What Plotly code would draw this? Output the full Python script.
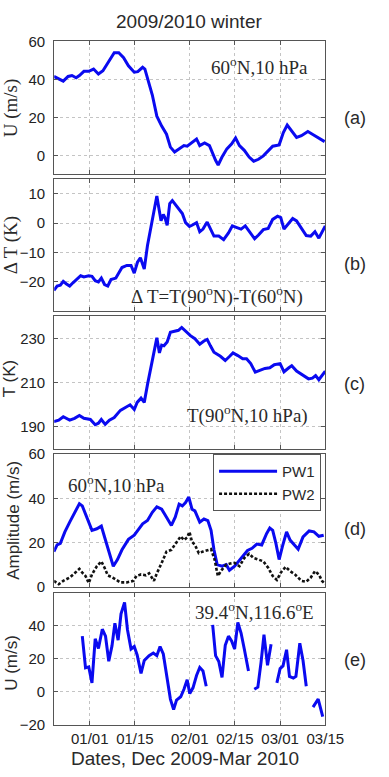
import plotly.graph_objects as go

# ---------------- data (x = days relative to 2010-01-01) ----------------
tick_days = [0, 14, 31, 45, 59, 73]
tick_labels = ["01/01", "01/15", "02/01", "02/15", "03/01", "03/15"]

# (a) U at 60N, 10 hPa
a_day = [-11.1, -9.6, -8.2, -6.7, -5.5, -4.2, -3.2, -1.8, -0.3, 1.2, 2.7, 4.1, 6.1, 7.6, 9.0, 10.5,
         12.0, 13.8, 14.9, 16.4, 17.1, 17.9, 19.4, 20.8, 22.3, 23.8, 25.0, 26.3, 27.7, 29.2, 30.2,
         31.7, 33.1, 34.1, 35.6, 37.1, 38.1, 39.0, 39.8, 41.0, 42.5, 44.0, 45.2, 46.4, 47.9, 49.4,
         50.8, 52.3, 53.8, 55.3, 56.7, 58.7, 60.0, 61.2, 62.6, 64.1, 65.6, 67.6, 69.0, 71.0, 72.8]
a_u = [41.5, 40.3, 39.0, 41.5, 42.0, 40.8, 42.0, 44.2, 44.2, 45.4, 42.8, 44.5, 49.7, 54.0, 54.0, 51.4,
       47.1, 43.7, 44.0, 46.3, 45.4, 40.3, 31.7, 20.6, 15.4, 11.1, 4.3, 1.7, 3.4, 5.1, 4.8,
       6.9, 8.6, 5.1, 6.5, 5.1, 0.9, -2.6, -5.1, -0.9, 3.4, 6.0, 9.1, 5.1, 2.6, -0.9,
       -3.1, -2.1, -0.3, 2.6, 4.8, 5.5, 12.0, 15.9, 12.9, 9.4, 10.3, 12.5, 11.1, 9.1, 7.2]

# (b) Delta T = T(90N) - T(60N)
b_day = [-11.1, -10.1, -9.1, -8.2, -7.2, -6.2, -5.2, -3.7, -2.8, -1.8, -0.3, 0.7, 1.7, 2.7, 3.6, 4.6,
         5.6, 6.6, 8.1, 9.0, 10.0, 11.5, 12.8, 13.8, 14.8, 15.7, 16.9, 17.9, 19.1, 20.1, 20.8, 21.5,
         22.1, 22.8, 23.3, 24.0, 24.8, 25.6, 26.5, 27.5, 28.7, 29.7, 30.9, 31.7, 33.1, 34.1, 35.1,
         36.4, 37.4, 38.5, 40.0, 41.5, 43.0, 44.2, 45.4, 46.9, 48.2, 49.6, 51.1, 52.3, 53.8, 55.3,
         56.7, 58.2, 59.2, 60.2, 61.7, 62.9, 64.1, 65.6, 67.1, 68.5, 69.8, 71.0, 72.0, 73.0]
b_dt = [-22.9, -21.4, -21.1, -19.8, -20.7, -21.4, -20.3, -18.7, -17.9, -18.3, -17.9, -18.1, -19.6,
        -20.0, -18.7, -20.9, -21.4, -19.2, -18.7, -17.0, -15.1, -14.4, -14.4, -17.0, -13.3, -11.8,
        -15.6, -7.6, -0.9, 5.2, 9.3, 4.7, 0.8, 3.0, 1.9, -0.7, 6.7, 7.7, 6.3, 4.9, 3.3, 0.2, -1.1,
        -0.7, 0.2, -2.9, -2.0, 0.4, -2.0, -4.4, -4.4, -5.6, -3.3, -0.9, -1.4, -2.0, -0.9, -3.1, -5.3,
        -4.0, -2.2, -1.8, 1.3, 2.4, 1.9, -2.0, 0.2, 1.6, 0.8, -1.8, -4.2, -4.4, -2.9, -5.1, -3.1, -0.9]

# (c) T at 90N, 10 hPa
c_day = [-11.1, -9.6, -8.2, -6.2, -4.7, -3.2, -1.8, 0.2, 1.7, 2.7, 3.6, 4.8, 6.1, 7.6, 9.5, 11.0,
         12.5, 13.8, 14.7, 15.9, 16.9, 17.9, 19.1, 20.1, 20.8, 21.6, 22.3, 23.0, 24.0, 25.0, 26.3,
         27.5, 28.5, 29.7, 31.2, 32.6, 34.1, 35.4, 36.4, 37.4, 38.5, 40.5, 42.0, 43.3, 44.4, 45.9,
         47.4, 48.6, 49.9, 51.3, 52.8, 54.3, 55.8, 57.2, 59.0, 60.2, 61.7, 62.6, 64.1, 66.1, 67.8,
         69.0, 70.0, 71.0, 72.0, 73.0]
c_t = [192.4, 193.1, 194.6, 193.1, 193.9, 195.2, 193.9, 193.4, 191.0, 191.7, 193.4, 191.2, 193.1,
       194.3, 197.5, 198.9, 200.0, 197.9, 201.1, 203.0, 201.1, 209.1, 218.6, 225.9, 230.2, 223.4,
       226.9, 226.6, 228.3, 232.7, 233.1, 233.6, 234.9, 233.1, 231.2, 229.8, 227.3, 228.8, 229.5,
       226.6, 223.7, 221.9, 220.0, 221.8, 223.4, 222.2, 220.8, 220.8, 218.6, 214.7, 215.7, 216.4,
       216.7, 218.1, 218.6, 214.9, 216.7, 217.6, 215.2, 213.5, 211.7, 212.0, 213.2, 211.3, 213.2, 215.2]

# (d) planetary wave amplitudes at 60N, 10 hPa
pw1_day = [-11.1, -10.1, -9.1, -7.7, -6.2, -4.7, -3.2, -2.3, -0.8, 0.7, 2.2, 3.6, 4.6, 6.1, 7.3, 8.6,
           10.0, 12.0, 13.8, 14.9, 16.4, 17.9, 19.4, 20.8, 22.3, 23.8, 25.3, 26.5, 27.7, 28.7, 29.7,
           30.7, 31.7, 32.6, 34.1, 35.4, 36.6, 37.6, 38.5, 39.5, 41.0, 42.3, 43.3, 44.9, 46.9, 48.9,
           50.3, 51.8, 53.3, 54.8, 55.8, 56.7, 57.7, 58.7, 59.7, 61.0, 62.1, 63.3, 64.6, 66.1, 68.0,
           69.5, 71.0, 72.5]
pw1_amp = [16.0, 19.0, 19.7, 24.9, 29.3, 33.7, 37.6, 36.6, 31.5, 25.6, 26.3, 27.5, 22.6, 15.3, 9.4,
           12.4, 16.8, 21.5, 23.4, 25.6, 28.5, 30.0, 33.7, 36.2, 35.1, 31.5, 27.8, 31.5, 37.4, 36.6,
           38.1, 40.6, 35.1, 34.4, 29.3, 30.7, 30.0, 25.6, 16.8, 10.1, 9.4, 10.1, 7.6, 9.4, 13.1, 16.5,
           17.5, 19.4, 19.0, 24.1, 26.6, 25.6, 19.7, 12.4, 18.2, 24.9, 21.2, 19.0, 17.1, 22.6, 25.3,
           24.9, 22.9, 23.4]
pw2_day = [-11.1, -9.6, -8.2, -6.2, -4.7, -3.2, -2.3, -1.3, -0.3, 0.7, 2.2, 3.6, 4.6, 5.6, 7.1, 8.1,
           9.5, 11.5, 13.5, 14.5, 15.9, 17.4, 18.4, 19.9, 20.8, 22.3, 23.8, 25.3, 26.7, 28.2, 29.2,
           30.2, 30.9, 31.7, 32.6, 33.8, 35.1, 36.6, 37.6, 38.7, 39.7, 41.0, 42.3, 43.5, 44.9, 46.4,
           47.9, 49.4, 50.8, 52.3, 53.8, 55.3, 56.7, 58.0, 59.2, 60.7, 62.1, 63.6, 65.6, 67.1, 68.5,
           69.8, 71.0, 72.0, 73.0]
pw2_amp = [2.8, 1.3, 2.8, 4.3, 6.2, 8.2, 6.5, 5.0, 1.8, 5.7, 9.4, 11.6, 8.7, 5.3, 4.3, 3.5, 2.1, 2.1,
           2.8, 5.0, 5.7, 5.3, 6.2, 2.8, 6.2, 10.9, 16.0, 16.8, 19.7, 22.9, 21.2, 22.4, 24.9, 20.4,
           19.0, 15.3, 16.0, 16.8, 17.1, 12.4, 5.0, 7.9, 10.1, 10.6, 10.9, 9.4, 13.1, 15.0, 13.1, 12.4,
           11.6, 8.7, 5.0, 3.2, 6.5, 9.1, 7.2, 5.7, 2.8, 2.4, 4.3, 7.2, 5.7, 2.8, 1.3]

# (e) U at 39.4N, 116.6E (None = missing)
e_day = [-2.3, -1.3, -0.3, 0.7, 1.7, 2.7, 3.9, 4.9, 5.9, 6.9, 7.8, 8.8, 9.7, 10.8, 11.7, 12.8, 13.8,
         14.7, 15.9, 16.9, 18.4, 19.7, 20.8, 21.8, 22.8, 23.8, 25.0, 26.0, 26.9, 28.2, 29.2, 30.2,
         31.0, 32.0, 33.1, 34.1, 35.1, 36.1, 37.1,
         38.1, 39.0, 40.0, 41.0, 42.0, 43.0, 44.0, 44.9, 45.9, 46.9, 47.9, 49.2, 50.1,
         51.0, 52.1, 53.1, 54.0, 55.1, 56.2, 57.1,
         58.0, 59.0, 59.9, 61.0, 61.9, 63.1, 63.9, 65.1, 66.1, 67.1, 68.2,
         69.2, 70.8, 72.2]
e_u = [33.8, 14.6, 15.2, 5.5, 32.2, 26.3, 38.0, 33.8, 18.6, 27.9, 41.6, 31.4, 47.4, 54.2, 37.7, 26.0,
       27.5, 22.4, 11.3, 19.1, 22.0, 23.6, 22.0, 27.5, 23.0, 9.4, -4.3, -10.7, -4.9, -2.9, 1.6, 7.4,
       -1.0, 2.5, 10.0, 14.8, 12.7, 3.5, None,
       40.6, 22.0, 18.5, 8.8, 28.3, 33.8, 30.8, 26.0, 42.1, 35.7, 26.0, 12.7, None,
       1.6, 2.9, 18.1, 34.7, 16.2, 28.9, None,
       5.5, 14.2, 15.8, 25.6, 9.4, 8.4, 9.4, 29.5, 19.1, 3.5, None,
       -9.2, -4.3, -15.0]

# ---------------- figure ----------------
W, H = 389, 777
BLUE = "#0a0af0"
FRAME = "#555555"
GRID = "#c4c4c4"

def py(p):
    return 1 - p / H

def px(p):
    return p / W

x_dom = [px(57), px(342)]
panels = [  # (top px, bottom px, y range, y ticks)
    (33, 169, [-10, 60], [0, 20, 40, 60]),
    (174, 309, [-30, 15], [-20, -10, 0, 10]),
    (314, 450, [180, 240], [190, 210, 230]),
    (455, 591, [0, 60], [0, 20, 40, 60]),
    (597, 732, [-20, 60], [-20, 0, 20, 40]),
]

fig = go.Figure()
line = dict(color=BLUE, width=3)
fig.add_trace(go.Scatter(x=a_day, y=a_u, mode="lines", line=line, showlegend=False,
                         xaxis="x", yaxis="y"))
fig.add_trace(go.Scatter(x=b_day, y=b_dt, mode="lines", line=line, showlegend=False,
                         xaxis="x2", yaxis="y2"))
fig.add_trace(go.Scatter(x=c_day, y=c_t, mode="lines", line=line, showlegend=False,
                         xaxis="x3", yaxis="y3"))
fig.add_trace(go.Scatter(x=pw1_day, y=pw1_amp, mode="lines", line=line, name="PW1",
                         xaxis="x4", yaxis="y4"))
fig.add_trace(go.Scatter(x=pw2_day, y=pw2_amp, mode="lines", name="PW2",
                         line=dict(color="#111111", width=2.6, dash="3px,2px"),
                         xaxis="x4", yaxis="y4"))
fig.add_trace(go.Scatter(x=e_day, y=e_u, mode="lines", line=line, showlegend=False,
                         connectgaps=False, xaxis="x5", yaxis="y5"))

tickfont = dict(family="Liberation Sans, Arial, sans-serif", size=15, color="#222222")
layout = {}
for i, (top, bot, yr, yt) in enumerate(panels, start=1):
    sx = "" if i == 1 else str(i)
    layout["xaxis" + sx] = dict(
        domain=x_dom, anchor="y" + sx, range=[-11, 73],
        tickmode="array", tickvals=tick_days, ticktext=tick_labels,
        showticklabels=(i == 5), tickfont=tickfont,
        showgrid=True, gridcolor=GRID, griddash="dot", gridwidth=1,
        zeroline=False, showline=True, linecolor=FRAME, linewidth=1,
        mirror="ticks", ticks="inside", ticklen=4, tickcolor=FRAME,
    )
    layout["yaxis" + sx] = dict(
        domain=[py(bot), py(top)], anchor="x" + sx, range=yr,
        tickmode="array", tickvals=yt, tickfont=tickfont,
        showgrid=True, gridcolor=GRID, griddash="dot", gridwidth=1,
        zeroline=False, showline=True, linecolor=FRAME, linewidth=1,
        mirror="ticks", ticks="inside", ticklen=4, tickcolor=FRAME,
        ticklabelstandoff=5,
    )

serif = "Liberation Serif, Times New Roman, serif"
sans = "Liberation Sans, Arial, sans-serif"
TXT = "#2a2a2a"

def ann(text, x, y, size, family, xanchor="center", angle=0):
    return dict(text=text, x=px(x), y=py(y), xref="paper", yref="paper",
                xanchor=xanchor, yanchor="middle", showarrow=False, textangle=angle,
                font=dict(family=family, size=size, color=TXT))

annotations = [
    ann("2009/2010 winter", 199, 13, 19, sans),
    ann("Dates, Dec 2009-Mar 2010", 194, 766, 19, sans),
    # in-panel labels
    ann("60<sup>o</sup>N,10 hPa", 326, 58, 19, serif, xanchor="right"),
    ann("Δ T=T(90<sup>o</sup>N)-T(60<sup>o</sup>N)", 321, 293, 19, serif, xanchor="right"),
    ann("T(90<sup>o</sup>N,10 hPa)", 326, 415, 19, serif, xanchor="right"),
    ann("60<sup>o</sup>N,10 hPa", 69, 486, 19, serif, xanchor="left"),
    ann("39.4<sup>o</sup>N,116.6<sup>o</sup>E", 332, 615, 19, serif, xanchor="right"),
    # panel letters
    ann("(a)", 373, 111, 18, sans),
    ann("(b)", 373, 261, 18, sans),
    ann("(c)", 373, 383, 18, sans),
    ann("(d)", 373, 532, 18, sans),
    ann("(e)", 373, 666, 18, sans),
    # y-axis titles
    ann("U (m/s)", 11, 101, 19, serif, angle=-90),
    ann("Δ T (K)", 11, 241, 19, serif, angle=-90),
    ann("T (K)", 10, 378, 17, sans, angle=-90),
    ann("Amplitude (m/s)", 14, 523, 17, sans, angle=-90),
    ann("U (m/s)", 12, 668, 17, sans, angle=-90),
]

fig.update_layout(
    width=W, height=H, margin=dict(l=0, r=0, t=0, b=0),
    paper_bgcolor="white", plot_bgcolor="white",
    annotations=annotations,
    legend=dict(x=px(224), y=py(455), xanchor="left", yanchor="top",
                bgcolor="white", bordercolor=FRAME, borderwidth=1,
                font=dict(family=sans, size=15, color=TXT), itemwidth=58,
                tracegroupgap=2),
    **layout,
)

fig.write_html("out.html")
